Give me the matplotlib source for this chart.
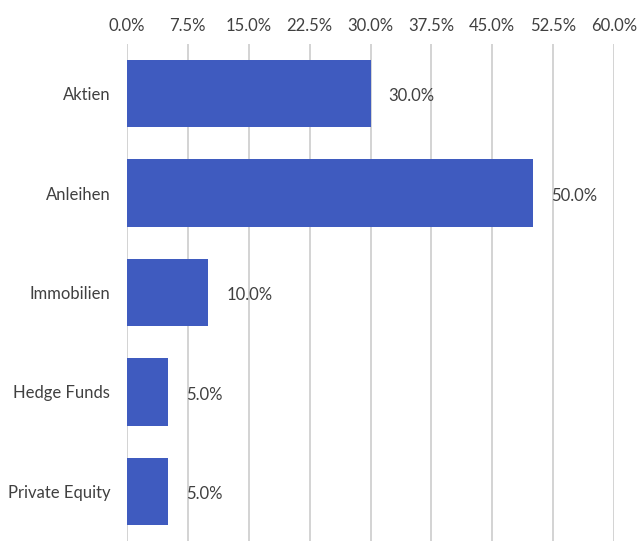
import matplotlib.pyplot as plt
import numpy as np
from matplotlib.ticker import FuncFormatter

# Data
categories = ['Aktien', 'Anleihen', 'Immobilien', 'Hedge Funds', 'Private Equity']
shares = [30.0, 50.0, 10.0, 5.0, 5.0]
xticks = np.arange(0, 60.1, 7.5)

plt.rcParams['font.family'] = ['Lato', 'DejaVu Sans']

fig = plt.figure(figsize=(6.4, 5.41), dpi=100)
ax = fig.add_axes([127 / 640, 0, 487 / 640, 497 / 541])

y = np.arange(len(categories))
ax.barh(y, shares, height=0.68, color='#3F5BBF', zorder=2)

# value labels right of each bar
for yi, v in zip(y, shares):
    ax.annotate(f"{v:.1f}%", (v, yi), xytext=(13, -2), textcoords='offset points',
                va='center', ha='left', fontsize=12, color='#404040')

ax.set_xlim(0, 60)
ax.set_ylim(len(categories) - 0.5, -0.5)
ax.set_xticks(xticks)
ax.xaxis.set_major_formatter(FuncFormatter(lambda v, p: f"{v:.1f}%"))
ax.xaxis.tick_top()
ax.set_yticks(y)
ax.set_yticklabels(categories)
ax.tick_params(axis='both', length=0, labelsize=12, labelcolor='#404040')
ax.tick_params(axis='x', pad=7)
ax.tick_params(axis='y', pad=12)
ax.grid(axis='x', color='#D0D0D0', linewidth=1.3, zorder=0)
for s in ax.spines.values():
    s.set_visible(False)

plt.savefig("out.png", dpi=100)
